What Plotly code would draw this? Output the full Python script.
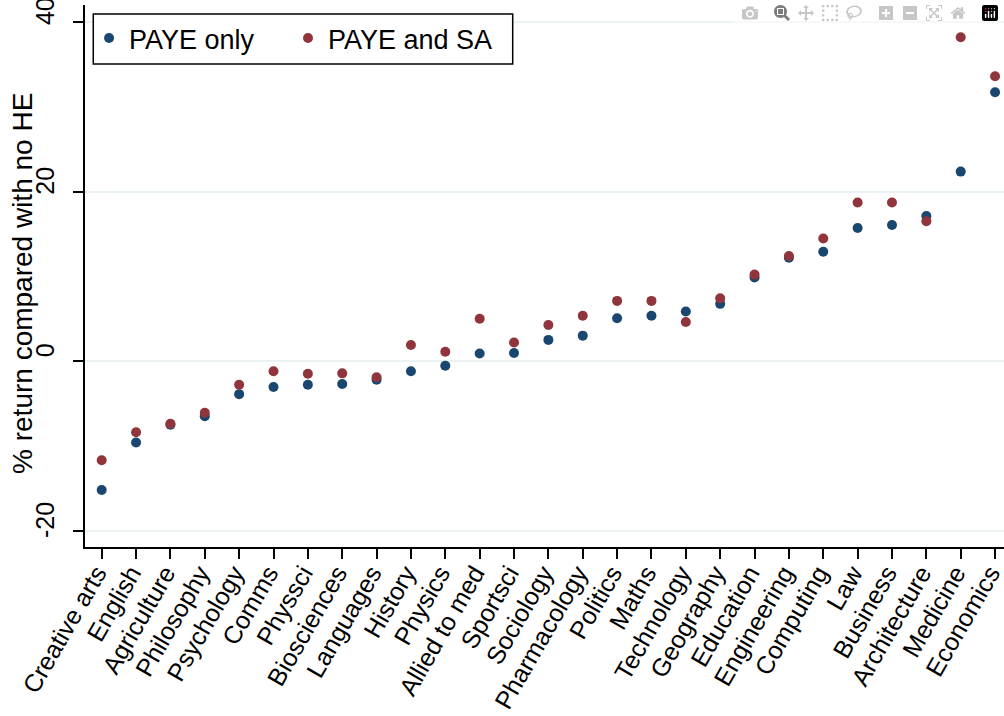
import plotly.graph_objects as go

categories = ["Creative arts", "English", "Agriculture", "Philosophy", "Psychology",
              "Comms", "Physsci", "Biosciences", "Languages", "History", "Physics",
              "Allied to med", "Sportsci", "Sociology", "Pharmacology", "Politics",
              "Maths", "Technology", "Geography", "Education", "Engineering",
              "Computing", "Law", "Business", "Architecture", "Medicine", "Economics"]

paye_only = [-15.2, -9.6, -7.5, -6.5, -3.9, -3.05, -2.8, -2.7, -2.2, -1.2, -0.56,
             0.9, 0.95, 2.5, 3.0, 5.05, 5.35, 5.85, 6.75, 9.85, 12.2, 12.9,
             15.7, 16.05, 17.1, 22.35, 31.7]
paye_and_sa = [-11.7, -8.4, -7.4, -6.1, -2.8, -1.2, -1.5, -1.45, -1.9, 1.9, 1.1,
               5.0, 2.2, 4.25, 5.35, 7.1, 7.1, 4.6, 7.4, 10.2, 12.4, 14.45,
               18.7, 18.7, 16.5, 38.2, 33.6]

y_ticks = [-20, 0, 20, 40]
y_range = [-21.93, 42.0]

BLUE = "#1a476f"
RED = "#90353b"
FONT = "Liberation Sans, Arial, sans-serif"

x_idx = list(range(len(categories)))

fig = go.Figure()
# invisible helper trace so the label-only overlay axis is drawn
fig.add_trace(go.Scatter(x=x_idx, y=paye_only, yaxis="y2", mode="markers",
                         marker=dict(opacity=0), showlegend=False, hoverinfo="skip"))
fig.add_trace(go.Scatter(x=x_idx, y=paye_only, mode="markers", name="PAYE only",
                         legend="legend",
                         marker=dict(color=BLUE, size=10, line=dict(width=0))))
fig.add_trace(go.Scatter(x=x_idx, y=paye_and_sa, mode="markers", name="PAYE and SA",
                         legend="legend2",
                         marker=dict(color=RED, size=10, line=dict(width=0))))

# legend frame
fig.add_shape(type="rect", xref="paper", yref="paper",
              x0=0.009, x1=0.4654, y0=0.8911, y1=0.9834,
              fillcolor="white", line=dict(color="black", width=1.5), layer="above")

# y-axis title
fig.add_annotation(text="% return compared with no HE", xref="paper", yref="paper",
                   x=-0.0675, y=0.4871, xanchor="center", yanchor="middle",
                   textangle=-90, showarrow=False, font=dict(size=28))

leg_common = dict(orientation="h", y=0.9834, xanchor="left", yanchor="top",
                  bgcolor="rgba(0,0,0,0)", borderwidth=0,
                  font=dict(size=27), itemwidth=30)

fig.update_layout(
    width=1004, height=716,
    margin=dict(l=85, r=0, t=5, b=169, autoexpand=False),
    paper_bgcolor="white", plot_bgcolor="white",
    font=dict(family=FONT, color="black", size=25),
    showlegend=True,
    legend=dict(x=0.0044, **leg_common),
    legend2=dict(x=0.2209, **leg_common),
)
fig.update_xaxes(
    range=[-0.486, 26.26], tickmode="array", tickvals=x_idx, ticktext=categories,
    tickangle=-60, ticks="outside", ticklen=10, tickwidth=1.5, tickcolor="black",
    showline=True, linecolor="black", linewidth=1.5, showgrid=False, zeroline=False,
    tickfont=dict(size=25), automargin=False, ticklabeloverflow="allow",
    ticklabelstandoff=-10, ticklabelshift=-5,
)
fig.update_layout(
    yaxis=dict(
        range=y_range, tickmode="array", tickvals=y_ticks, showticklabels=False,
        ticks="outside", ticklen=10, tickwidth=1.5, tickcolor="black",
        showline=True, linecolor="black", linewidth=1.5,
        showgrid=True, gridcolor="#eaf2f3", gridwidth=2, zeroline=False,
        automargin=False,
    ),
    yaxis2=dict(
        overlaying="y", side="left", range=y_range, tickmode="array",
        tickvals=y_ticks, ticktext=[str(v) for v in y_ticks], tickangle=-90,
        ticks="outside", ticklen=20, tickcolor="rgba(0,0,0,0)",
        showline=False, showgrid=False, zeroline=False,
        tickfont=dict(size=25), automargin=False, ticklabeloverflow="allow",
        ticklabelshift=-7,
    ),
)

fig.write_html("out.html",
               post_script="document.body.style.margin='0';"
                           "document.body.style.overflow='hidden';")
